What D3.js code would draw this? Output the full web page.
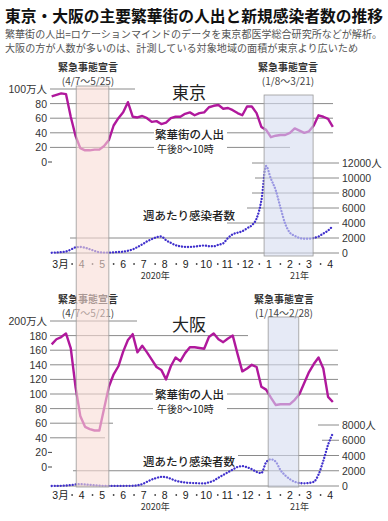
<!DOCTYPE html>
<html><head><meta charset="utf-8">
<script src="https://cdn.jsdelivr.net/npm/d3@7"></script>
<style>html,body{margin:0;padding:0;background:#fff;}svg{display:block;}</style>
</head><body>
<script>
// ---------- DATA ----------
const weekStart = new Date(2020, 2, 2);
const nWeeks = 60;
const tokyoFlow = [90,92,94,93,62,36,19,16,16,17,17,22,30,50,60,68,82,62,61,63,60,55,56,52,54,60,62,62,66,68,64,67,68,75,77,78,73,74,71,67,64,76,76,67,48,44,34,36,37,37,40,46,43,40,42,50,64,62,59,48];
const tokyoCases = [30,60,120,200,450,750,800,700,500,280,100,60,60,90,130,180,300,480,800,1150,1550,1850,2100,2200,1700,1350,1050,900,820,800,850,950,1000,900,900,1100,1300,2000,2500,2700,2900,3300,3700,4600,7000,11600,9900,8400,6100,3900,2700,2300,2000,1900,1900,2000,2200,2600,3000,3600];
const osakaFlow = [168,175,178,183,163,110,70,55,52,50,50,80,110,127,138,158,174,182,157,166,157,147,137,133,120,138,150,145,156,164,164,163,162,178,183,175,171,176,180,155,131,135,140,137,110,106,95,85,86,86,86,92,100,115,130,141,150,135,96,89];
const osakaCases = [0,10,30,60,120,200,250,220,150,90,50,20,10,10,10,15,20,30,100,250,550,850,1050,1200,1150,950,700,550,450,400,380,350,330,480,700,1100,1450,1800,2150,2500,2600,2450,2200,1850,1700,3100,3500,3200,2100,1400,900,550,380,350,400,550,1500,3300,5400,6900];
const monthLabels = ["3月","4","5","6","7","8","9","10","11","12","1","2","3","4"];
const tokyoLeftTicks = [0,20,40,60,80,100];
const tokyoRightTicks = [0,2000,4000,6000,8000,10000,12000];
const osakaLeftTicks = [0,20,40,60,80,100,120,140,160,180,200];
const osakaRightTicks = [0,2000,4000,6000,8000];
const tokyoDecl = [[2020,3,7],[2020,4,25],[2021,0,8],[2021,2,21]];
const osakaDecl = [[2021,0,14],[2021,1,28]];
const titleText = "東京・大阪の主要繁華街の人出と新規感染者数の推移";
const sub1 = "繁華街の人出=ロケーションマインドのデータを東京都医学総合研究所などが解析。";
const sub2 = "大阪の方が人数が多いのは、計測している対象地域の面積が東京より広いため";

// ---------- LAYOUT ----------
const W = 388, H = 521;
const JP = '"Noto Sans CJK JP", sans-serif';
const NUM = '"Liberation Sans", "Noto Sans CJK JP", sans-serif';
const flowColor = "#b0189c", caseColor = "#3f2fcc", gridColor = "#8a8a8a";

const svg = d3.select("body").append("svg").attr("width", W).attr("height", H);
svg.append("rect").attr("width", W).attr("height", H).attr("fill", "#fff");

const x = d3.scaleTime().domain([new Date(2020,2,1), new Date(2021,4,1)]).range([51, 341]);
const weeks = d3.range(nWeeks).map(i => d3.timeDay.offset(weekStart, 7*i));

function txt(g, s, px, py, o = {}) {
  const t = g.append("text").attr("x", px).attr("y", py).text(s)
    .attr("font-family", o.ff || JP).attr("font-size", o.fs || 11)
    .attr("fill", o.fill || "#222").attr("text-anchor", o.anchor || "start");
  if (o.fw) t.attr("font-weight", o.fw);
  if (o.len) t.attr("textLength", o.len).attr("lengthAdjust", "spacingAndGlyphs");
  return t;
}

// Title
txt(svg, titleText, 5, 22, {fs: 16, fw: 700, fill: "#111", len: 378});
txt(svg, sub1, 5, 38, {fs: 10, fill: "#555", len: 377});
txt(svg, sub2, 5, 52, {fs: 10, fill: "#555", len: 353});

function panel(cfg) {
  const g = svg.append("g");
  const yL = d3.scaleLinear().domain([0, cfg.lMax]).range([cfg.y0L, cfg.yTopL]);
  const yR = d3.scaleLinear().domain([0, cfg.rMax]).range([cfg.y0R, cfg.yTopR]);

  // left grid
  cfg.leftTicks.forEach(v => {
    const segs = cfg.gridL[v];
    if (segs) segs.forEach(s => g.append("line").attr("x1", s[0]).attr("x2", s[1])
      .attr("y1", yL(v)).attr("y2", yL(v)).attr("stroke", gridColor).attr("stroke-width", 1));
    else g.append("line").attr("x1", 48).attr("x2", 52).attr("y1", yL(v)).attr("y2", yL(v))
      .attr("stroke", "#444").attr("stroke-width", 1);
    const lab = v === cfg.lMax ? v + "万人" : String(v);
    txt(g, lab, 47, yL(v) + 4, {ff: NUM, fs: 10.5, anchor: "end", fill: "#333"});
  });
  // right grid
  cfg.rightTicks.forEach(v => {
    const s = cfg.gridR[v];
    g.append("line").attr("x1", s[0]).attr("x2", s[1]).attr("y1", yR(v)).attr("y2", yR(v))
      .attr("stroke", gridColor).attr("stroke-width", 1);
    const lab = v === cfg.rMax ? v + "人" : String(v);
    txt(g, lab, 342, yR(v) + 4, {ff: NUM, fs: 10.5, fill: "#333"});
  });

  // cases dotted line
  const lineR = d3.line().x((d,i) => x(weeks[i])).y(d => yR(d)).curve(d3.curveMonotoneX);
  g.append("path").datum(cfg.cases).attr("d", lineR).attr("fill", "none")
    .attr("stroke", caseColor).attr("stroke-width", 2.3).attr("stroke-linecap", "round")
    .attr("stroke-dasharray", "0.1,2.9");
  // flow line
  const lineL = d3.line().x((d,i) => x(weeks[i])).y(d => yL(d)).curve(d3.curveLinear);
  g.append("path").datum(cfg.flow).attr("d", lineL).attr("fill", "none")
    .attr("stroke", flowColor).attr("stroke-width", 2.4).attr("stroke-linejoin", "round");

  // month labels
  monthLabels.forEach((m, k) => {
    txt(g, m, x(new Date(2020, 2+k, 15)), cfg.axisY, {ff: NUM, fs: 10.5, anchor: "middle", fill: "#222"});
  });
  d3.range(1, 14).forEach(k => {
    g.append("circle").attr("cx", x(new Date(2020, 2+k, 1))).attr("cy", cfg.axisY - 4)
      .attr("r", 0.9).attr("fill", "#444");
  });
  txt(g, "2020年", x(new Date(2020, 7, 1)), cfg.axisY + 11, {fs: 9, anchor: "middle", fill: "#333"});
  txt(g, "21年", x(new Date(2021, 2, 1)), cfg.axisY + 11, {fs: 9, anchor: "middle", fill: "#333"});

  // labels
  txt(g, cfg.name, 172, cfg.nameY, {fs: 17, fill: "#222"});
  txt(g, "繁華街の人出", 155, cfg.flowLabY, {fs: 11.5, fw: 500, fill: "#222"});
  txt(g, "午後8〜10時", 157, cfg.flowLabY + 14, {fs: 10, fill: "#222"});
  txt(g, "週あたり感染者数", 143, cfg.caseLabY, {fs: 11.5, fw: 500, fill: "#222"});

  // declaration annotations
  cfg.ann.forEach(a => {
    txt(g, "緊急事態宣言", a.cx, a.y, {fs: 10, fw: 700, anchor: "middle", fill: "#333"});
    txt(g, a.range, a.cx, a.y + 14, {fs: 10, anchor: "middle", fill: "#444"});
  });
  return g;
}

panel({
  name: "東京", nameY: 99, lMax: 100, rMax: 12000,
  y0L: 162, yTopL: 89, y0R: 253, yTopR: 163,
  leftTicks: tokyoLeftTicks, rightTicks: tokyoRightTicks,
  gridL: {100: [[50,135]], 80: [[50,333]], 60: [[50,333]], 40: [[50,154],[227,333]], 20: [[50,154],[227,290]]},
  gridR: {12000: [252,339], 10000: [255,339], 8000: [252,339], 6000: [247,339], 4000: [227,339], 2000: [70,339], 0: [55,339]},
  flow: tokyoFlow, cases: tokyoCases, axisY: 268,
  flowLabY: 139, caseLabY: 220,
  ann: [{cx: 88, y: 71, range: "(4/7〜5/25)"}, {cx: 288, y: 71, range: "(1/8〜3/21)"}]
});
panel({
  name: "大阪", nameY: 331, lMax: 200, rMax: 8000,
  y0L: 467, yTopL: 321, y0R: 486, yTopR: 425,
  leftTicks: osakaLeftTicks, rightTicks: osakaRightTicks,
  gridL: {200: [[50,137]], 180: [[50,248]], 160: [[50,338]], 140: [[50,338]], 120: [[50,338]], 100: [[50,153],[227,338]], 80: [[50,153],[227,338]], 60: [[50,113]], 40: [[50,105]]},
  gridR: {8000: [318,339], 6000: [322,339], 4000: [238,339], 2000: [73,339], 0: [55,339]},
  flow: osakaFlow, cases: osakaCases, axisY: 499,
  flowLabY: 399, caseLabY: 466,
  ann: [{cx: 88, y: 303, range: "(4/7〜5/21)"}, {cx: 284, y: 303, range: "(1/14〜2/28)"}]
});

// shading (drawn over, semi-transparent)
const dt = a => new Date(a[0], a[1], a[2]);
function shade(d0, d1, y0, y1, fill) {
  svg.append("rect").attr("x", x(dt(d0))).attr("width", x(dt(d1)) - x(dt(d0)))
    .attr("y", y0).attr("height", y1 - y0).attr("fill", fill).attr("fill-opacity", 0.6)
    .attr("stroke", "#9a9a9a").attr("stroke-width", 0.8);
}
shade(tokyoDecl[0], tokyoDecl[1], 86, 487, "#f8dcd5");
shade(tokyoDecl[2], tokyoDecl[3], 95, 256, "#d5dcf0");
shade(osakaDecl[0], osakaDecl[1], 317, 487, "#d5dcf0");
</script>
</body></html>
